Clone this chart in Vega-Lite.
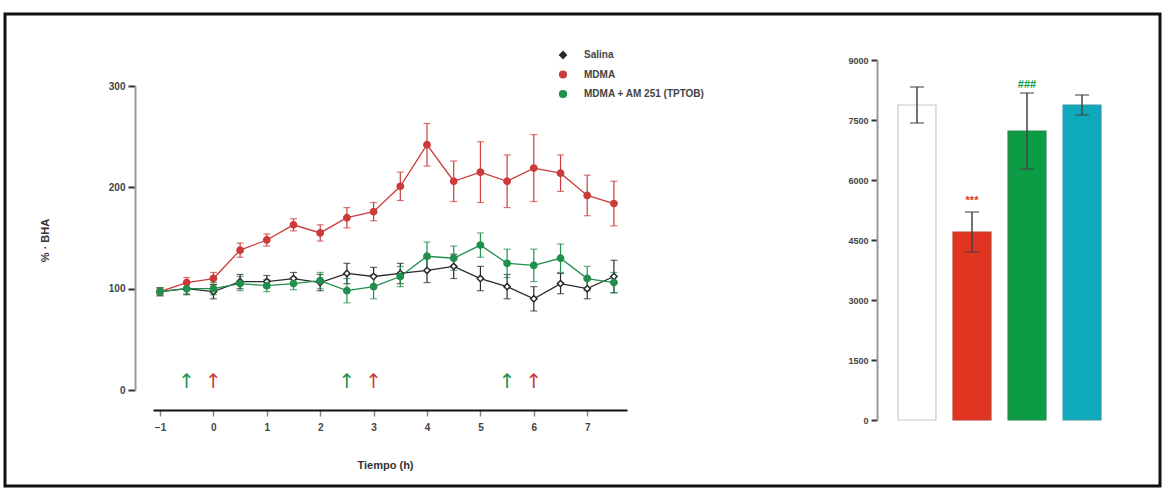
{
  "$schema": "https://vega.github.io/schema/vega-lite/v6.json",
  "width": 1155,
  "height": 472,
  "autosize": {"type": "none"},
  "padding": {"left": 5, "top": 14, "right": 5, "bottom": 7},
  "background": "white",
  "config": {
    "font": "Liberation Sans",
    "view": {"stroke": "#111", "strokeWidth": 3},
    "axis": {"grid": false, "labelFont": "Liberation Sans", "labelFontSize": 10, "labelFontWeight": "bold", "labelColor": "#444", "titleFont": "Liberation Sans", "titleFontSize": 11, "titleFontWeight": "bold", "titleColor": "#333"},
    "legend": {"orient": "none", "legendX": 553, "legendY": 36, "padding": 0, "rowPadding": 5.5, "labelFont": "Liberation Sans", "labelFontSize": 10, "labelFontWeight": "bold", "labelColor": "#444", "labelOffset": 16, "symbolSize": 45, "symbolStrokeWidth": 1.5, "symbolOpacity": 1}
  },
  "datasets": {
    "series": [
      {"t": -1, "grupo": "Salina", "v": 97, "e": 4},
      {"t": -0.5, "grupo": "Salina", "v": 100, "e": 6},
      {"t": 0, "grupo": "Salina", "v": 97, "e": 7},
      {"t": 0.5, "grupo": "Salina", "v": 107, "e": 7},
      {"t": 1, "grupo": "Salina", "v": 107, "e": 6},
      {"t": 1.5, "grupo": "Salina", "v": 110, "e": 6},
      {"t": 2, "grupo": "Salina", "v": 106, "e": 8},
      {"t": 2.5, "grupo": "Salina", "v": 115, "e": 10},
      {"t": 3, "grupo": "Salina", "v": 112, "e": 9},
      {"t": 3.5, "grupo": "Salina", "v": 115, "e": 10},
      {"t": 4, "grupo": "Salina", "v": 118, "e": 12},
      {"t": 4.5, "grupo": "Salina", "v": 122, "e": 12},
      {"t": 5, "grupo": "Salina", "v": 110, "e": 12},
      {"t": 5.5, "grupo": "Salina", "v": 102, "e": 12},
      {"t": 6, "grupo": "Salina", "v": 90, "e": 12},
      {"t": 6.5, "grupo": "Salina", "v": 105, "e": 10},
      {"t": 7, "grupo": "Salina", "v": 100, "e": 10},
      {"t": 7.5, "grupo": "Salina", "v": 112, "e": 16},
      {"t": -1, "grupo": "MDMA", "v": 97, "e": 3},
      {"t": -0.5, "grupo": "MDMA", "v": 106, "e": 5},
      {"t": 0, "grupo": "MDMA", "v": 110, "e": 6},
      {"t": 0.5, "grupo": "MDMA", "v": 138, "e": 7},
      {"t": 1, "grupo": "MDMA", "v": 148, "e": 6},
      {"t": 1.5, "grupo": "MDMA", "v": 163, "e": 6},
      {"t": 2, "grupo": "MDMA", "v": 155, "e": 8},
      {"t": 2.5, "grupo": "MDMA", "v": 170, "e": 10},
      {"t": 3, "grupo": "MDMA", "v": 176, "e": 9},
      {"t": 3.5, "grupo": "MDMA", "v": 201, "e": 14},
      {"t": 4, "grupo": "MDMA", "v": 242, "e": 21},
      {"t": 4.5, "grupo": "MDMA", "v": 206, "e": 20},
      {"t": 5, "grupo": "MDMA", "v": 215, "e": 30},
      {"t": 5.5, "grupo": "MDMA", "v": 206, "e": 26},
      {"t": 6, "grupo": "MDMA", "v": 219, "e": 33},
      {"t": 6.5, "grupo": "MDMA", "v": 214, "e": 18},
      {"t": 7, "grupo": "MDMA", "v": 192, "e": 20},
      {"t": 7.5, "grupo": "MDMA", "v": 184, "e": 22},
      {"t": -1, "grupo": "MDMA + AM 251 (TPTOB)", "v": 97, "e": 4},
      {"t": -0.5, "grupo": "MDMA + AM 251 (TPTOB)", "v": 100, "e": 5},
      {"t": 0, "grupo": "MDMA + AM 251 (TPTOB)", "v": 100, "e": 6},
      {"t": 0.5, "grupo": "MDMA + AM 251 (TPTOB)", "v": 105, "e": 7},
      {"t": 1, "grupo": "MDMA + AM 251 (TPTOB)", "v": 103, "e": 6},
      {"t": 1.5, "grupo": "MDMA + AM 251 (TPTOB)", "v": 105, "e": 6},
      {"t": 2, "grupo": "MDMA + AM 251 (TPTOB)", "v": 108, "e": 8},
      {"t": 2.5, "grupo": "MDMA + AM 251 (TPTOB)", "v": 98, "e": 12},
      {"t": 3, "grupo": "MDMA + AM 251 (TPTOB)", "v": 102, "e": 12},
      {"t": 3.5, "grupo": "MDMA + AM 251 (TPTOB)", "v": 112, "e": 10},
      {"t": 4, "grupo": "MDMA + AM 251 (TPTOB)", "v": 132, "e": 14},
      {"t": 4.5, "grupo": "MDMA + AM 251 (TPTOB)", "v": 130, "e": 12},
      {"t": 5, "grupo": "MDMA + AM 251 (TPTOB)", "v": 143, "e": 12},
      {"t": 5.5, "grupo": "MDMA + AM 251 (TPTOB)", "v": 125, "e": 14},
      {"t": 6, "grupo": "MDMA + AM 251 (TPTOB)", "v": 123, "e": 16},
      {"t": 6.5, "grupo": "MDMA + AM 251 (TPTOB)", "v": 130, "e": 14},
      {"t": 7, "grupo": "MDMA + AM 251 (TPTOB)", "v": 110, "e": 12},
      {"t": 7.5, "grupo": "MDMA + AM 251 (TPTOB)", "v": 106, "e": 10}
    ],
    "arrows": [
      {"t": -0.5, "grupo": "MDMA + AM 251 (TPTOB)"},
      {"t": 0, "grupo": "MDMA"},
      {"t": 2.5, "grupo": "MDMA + AM 251 (TPTOB)"},
      {"t": 3, "grupo": "MDMA"},
      {"t": 5.5, "grupo": "MDMA + AM 251 (TPTOB)"},
      {"t": 6, "grupo": "MDMA"}
    ],
    "bars": [
      {"grupo": "Salina", "v": 7875, "e": 450},
      {"grupo": "MDMA", "v": 4700, "e": 500},
      {"grupo": "MDMA + AM 251 (TPTOB)", "v": 7225, "e": 950},
      {"grupo": "AM 251", "v": 7875, "e": 250}
    ],
    "annot": [
      {"grupo": "MDMA", "y": 5350, "txt": "***"},
      {"grupo": "MDMA + AM 251 (TPTOB)", "y": 8250, "txt": "###"}
    ]
  },
  "layer": [
    {
      "encoding": {
        "x": {"field": "t", "type": "quantitative",
          "scale": {"domain": [-1.131, 7.745], "range": [148, 622], "nice": false, "zero": false},
          "axis": {"orient": "bottom", "offset": -76, "values": [-1, 0, 1, 2, 3, 4, 5, 6, 7], "title": "Tiempo (h)", "titleX": 380, "titleY": 55, "titleAlign": "center", "titleBaseline": "middle", "domainColor": "#111", "domainWidth": 2, "tickColor": "#888", "tickSize": 6, "tickWidth": 1.5, "labelPadding": 6}}
      },
      "layer": [
        {
          "data": {"name": "series"},
          "mark": {"type": "errorbar", "ticks": {"size": 7}, "thickness": 1.2},
          "encoding": {
            "y": {"field": "v", "type": "quantitative",
              "scale": {"domain": [0, 300], "range": [376, 72], "nice": false, "zero": false},
              "axis": {"orient": "left", "offset": -130, "values": [0, 100, 200, 300], "title": "% · BHA", "titleX": -90, "titleY": 226, "titleAlign": "center", "titleBaseline": "middle", "titleAngle": -90, "domainColor": "#999", "domainWidth": 2, "tickColor": "#333", "tickSize": 7, "tickWidth": 2, "labelPadding": 3}},
            "yError": {"field": "e"},
            "color": {"field": "grupo", "type": "nominal", "title": null, "scale": {"domain": ["Salina", "MDMA", "MDMA + AM 251 (TPTOB)"], "range": ["#2a2a2a", "#cc3b3b", "#21904e"]},
              "legend": {"encode": {"symbols": {"update": {"fill": {"signal": "datum.value === 'Salina' ? '#ffffff' : (datum.value === 'MDMA' ? '#cc3b3b' : '#21904e')"}, "opacity": {"value": 1}}}}}}
          }
        },
        {
          "data": {"name": "series"},
          "mark": {"type": "line", "strokeWidth": 1.3},
          "encoding": {
            "y": {"field": "v", "type": "quantitative"},
            "color": {"field": "grupo", "type": "nominal", "title": null}
          }
        },
        {
          "data": {"name": "series"},
          "mark": {"type": "point", "filled": false, "strokeWidth": 1.5, "opacity": 1, "size": 40},
          "encoding": {
            "y": {"field": "v", "type": "quantitative"},
            "color": {"field": "grupo", "type": "nominal", "title": null},
            "fill": {"field": "grupo", "type": "nominal", "title": null, "scale": {"domain": ["Salina", "MDMA", "MDMA + AM 251 (TPTOB)"], "range": ["#ffffff", "#cc3b3b", "#21904e"]}},
            "shape": {"field": "grupo", "type": "nominal", "title": null, "scale": {"domain": ["Salina", "MDMA", "MDMA + AM 251 (TPTOB)"], "range": ["diamond", "circle", "circle"]}}
          }
        },
        {
          "data": {"name": "arrows"},
          "mark": {"type": "text", "text": "↑", "fontSize": 20, "baseline": "middle", "align": "center", "font": "DejaVu Sans"},
          "encoding": {
            "y": {"datum": 8, "type": "quantitative"},
            "color": {"field": "grupo", "type": "nominal", "title": null}
          }
        }
      ]
    },
    {
      "encoding": {
        "x": {"field": "grupo", "type": "nominal", "sort": null,
          "scale": {"domain": ["Salina", "MDMA", "MDMA + AM 251 (TPTOB)", "AM 251"], "range": [887.5, 1101.5], "paddingInner": 0.31, "paddingOuter": 0.1},
          "axis": null}
      },
      "layer": [
        {
          "data": {"name": "bars"},
          "mark": {"type": "bar", "strokeWidth": 1.2},
          "encoding": {
            "y": {"field": "v", "type": "quantitative",
              "scale": {"domain": [0, 9000], "range": [406, 46], "nice": false, "zero": true},
              "axis": {"orient": "left", "offset": -872, "values": [0, 1500, 3000, 4500, 6000, 7500, 9000], "format": "d", "title": null, "domainColor": "#999", "domainWidth": 2, "tickColor": "#333", "tickSize": 6, "tickWidth": 2, "labelFontSize": 9, "labelPadding": 3}},
            "color": {"field": "grupo", "type": "nominal", "scale": {"domain": ["Salina", "MDMA", "MDMA + AM 251 (TPTOB)", "AM 251"], "range": ["#ffffff", "#e03420", "#0c9c44", "#0eaabb"]}, "legend": null},
            "stroke": {"field": "grupo", "type": "nominal", "scale": {"domain": ["Salina", "MDMA", "MDMA + AM 251 (TPTOB)", "AM 251"], "range": ["#c8c8c8", "#b8402e", "#2a8a50", "#3a98a8"]}, "legend": null}
          }
        },
        {
          "data": {"name": "bars"},
          "mark": {"type": "errorbar", "ticks": {"size": 14}, "thickness": 1.5, "color": "#444"},
          "encoding": {
            "y": {"field": "v", "type": "quantitative"},
            "yError": {"field": "e"}
          }
        },
        {
          "data": {"name": "annot"},
          "mark": {"type": "text", "fontSize": 11, "fontWeight": "bold", "baseline": "bottom", "align": "center"},
          "encoding": {
            "y": {"field": "y", "type": "quantitative"},
            "text": {"field": "txt"},
            "color": {"field": "grupo", "type": "nominal", "legend": null}
          }
        }
      ]
    }
  ],
  "resolve": {"scale": {"x": "independent", "y": "independent", "color": "independent", "stroke": "independent", "fill": "independent", "shape": "independent"}}
}
